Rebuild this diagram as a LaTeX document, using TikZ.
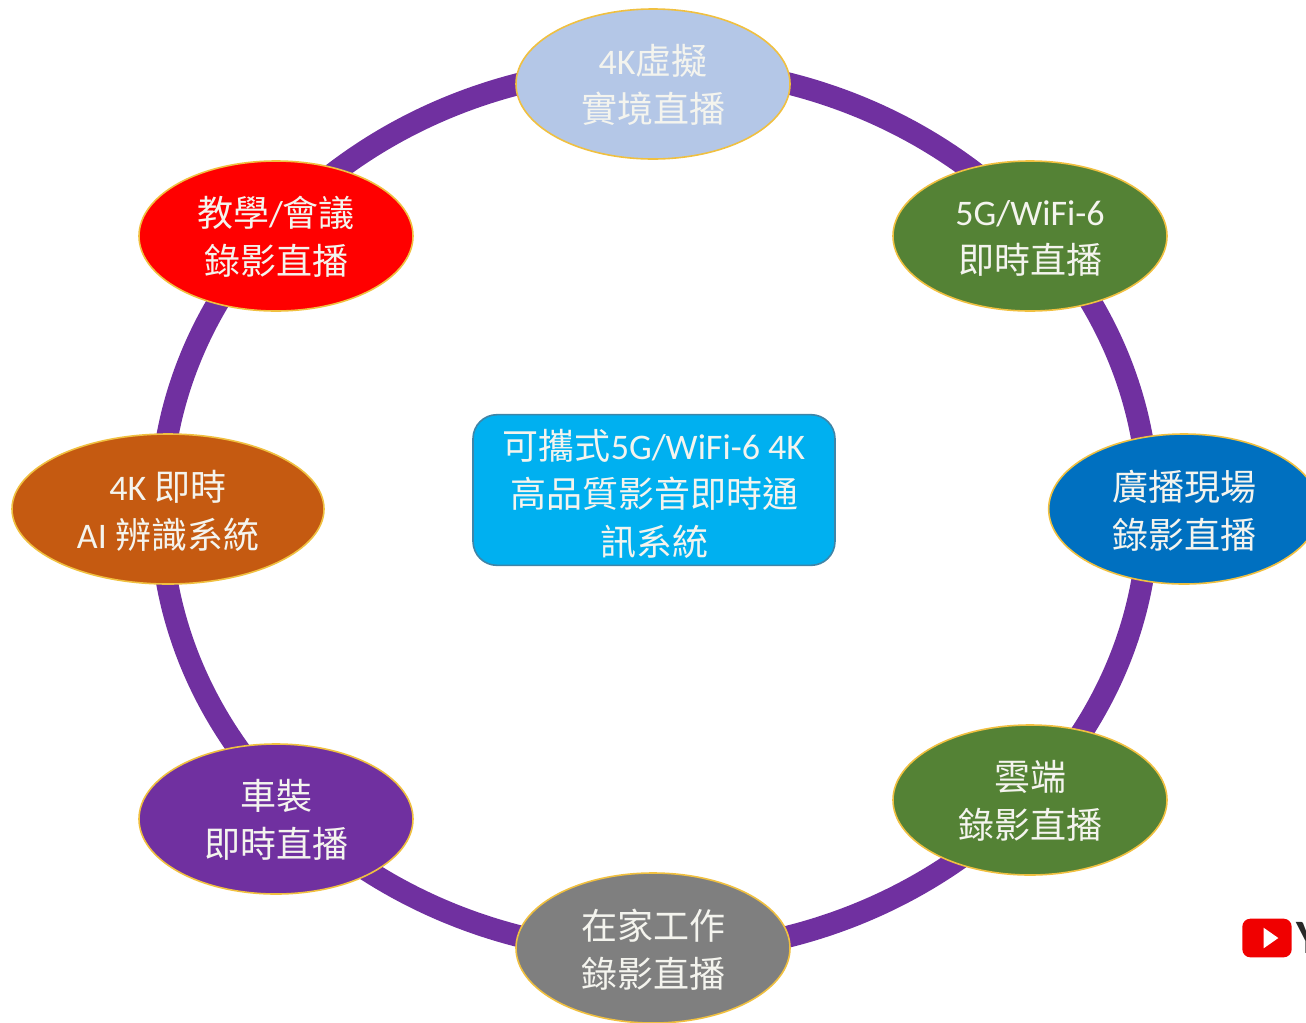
\documentclass[tikz,border=0pt]{standalone}
\usepackage{fontspec}
\setmainfont{Carlito}
\newfontfamily\cjk{Noto Sans CJK TC}
\usetikzlibrary{shapes.geometric}
\definecolor{ringc}{HTML}{7030A0}
\definecolor{goldc}{HTML}{F0C040}
\definecolor{txtc}{HTML}{F4F4EE}
\definecolor{lblue}{HTML}{B4C7E7}
\definecolor{green1}{HTML}{548235}
\definecolor{blue1}{HTML}{0070C0}
\definecolor{gray1}{HTML}{7F7F7F}
\definecolor{orange1}{HTML}{C55A11}
\definecolor{red1}{HTML}{FF0000}
\definecolor{sky1}{HTML}{00B0F0}
\definecolor{skyline}{HTML}{3F85A8}
\definecolor{ytred}{HTML}{F00000}
\definecolor{ytword}{HTML}{282828}
\tikzset{
  x=0.75pt,y=-0.75pt,
  oval/.style={ellipse,draw=goldc,line width=1.2pt,inner sep=0pt,minimum width=205.5pt,minimum height=112.5pt,
    text=txtc,font=\fontsize{27}{36}\selectfont,align=center,text height=56pt,text depth=0pt},
  ring/.style={ellipse,draw=ringc,line width=16.5pt,inner sep=0pt,minimum width=741pt,minimum height=664.5pt}
}
\newcommand{\zh}[1]{{\cjk #1}}
\begin{document}
\begin{tikzpicture}
\useasboundingbox (0,0) rectangle (1306,1022);
\node[ring] (loop) at (654.5,510) {};
\node[oval,fill=lblue,text height=57pt] (top) at (653,84) {4K\zh{虛擬}\\\zh{實境直播}};
\node[oval,fill=green1] (five) at (1030,236) {5G/WiFi-6\\\zh{即時直播}};
\node[oval,fill=blue1,minimum width=203pt,text height=59pt] (broad) at (1184,509) {\zh{廣播現場}\\\zh{錄影直播}};
\node[oval,fill=green1,text height=57pt] (cloud) at (1030,800) {\zh{雲端}\\\zh{錄影直播}};
\node[oval,fill=gray1,text height=59pt] (home) at (653,948) {\zh{在家工作}\\\zh{錄影直播}};
\node[oval,fill=ringc,text height=58pt] (car) at (276,819) {\zh{車裝}\\\zh{即時直播}};
\node[oval,fill=orange1,minimum width=234pt,text height=59pt] (ai) at (168,509) {4K \zh{即時}\\AI \zh{辨識系統}};
\node[oval,fill=red1,text height=57pt] (teach) at (276,236) {\zh{教學}/\zh{會議}\\\zh{錄影直播}};
\node[rectangle,rounded corners=18pt,fill=sky1,draw=skyline,line width=1.2pt,
  minimum width=271.5pt,minimum height=113pt,inner sep=0pt,text=txtc,
  font=\fontsize{27}{36}\selectfont,align=center,text height=98pt,text depth=0pt] (hub) at (654,490)
  {\zh{可攜式}5G/WiFi-6 4K\\\zh{高品質影音即時通}\\\zh{訊系統}};
\node[rectangle,rounded corners=6pt,fill=ytred,minimum width=37pt,minimum height=29pt,inner sep=0pt] (yt) at (1267,938) {};
\node[isosceles triangle,isosceles triangle apex angle=70,fill=white,inner sep=0pt,minimum height=11pt,minimum width=13pt] (play) at (1269,938) {};
\node[anchor=west,inner sep=0pt,text=ytword,font=\bfseries\fontsize{36}{36}\selectfont] (ytwordnode) at (1296,938) {Y};
\end{tikzpicture}
\end{document}
